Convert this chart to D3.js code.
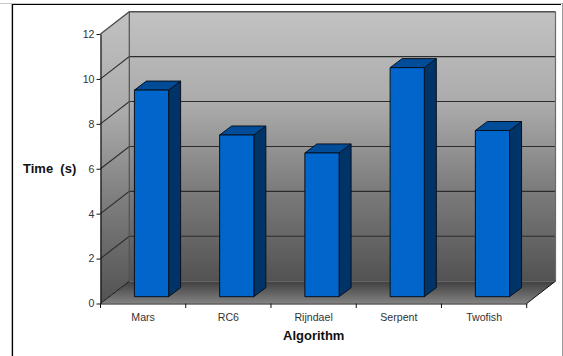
<!DOCTYPE html>
<html>
<head>
<meta charset="utf-8">
<script src="https://cdn.jsdelivr.net/npm/d3@7/dist/d3.min.js"></script>
<style>
html, body { margin: 0; padding: 0; background: #fff; }
svg { display: block; }
text { font-family: "Liberation Sans", Arial, sans-serif; }
</style>
</head>
<body>
<svg id="chart" width="563" height="356"></svg>
<script>
// Encryption time per algorithm
const categories = ["Mars", "RC6", "Rijndael", "Serpent", "Twofish"];
const times = [9.2, 7.2, 6.4, 10.2, 7.4];
const yTicks = [0, 2, 4, 6, 8, 10, 12];

const W = 563, H = 356;
const plotL = 100.5, plotR = 526.7, plotB = 303.5, plotT = 34;
const depthX = 28.8, depthY = 22.3;   // offset of the back wall
const barDX = 12, barDY = 9;          // depth of each bar
const barInsetX = 33.9, barInsetY = 6.8, barWidth = 34.2;

const svg = d3.select("#chart");
const x = d3.scaleBand().domain(categories).range([plotL, plotR]);
const y = d3.scaleLinear().domain([0, 12]).range([plotB, plotT]);
const poly = pts => pts.map(p => p.join(",")).join(" ");

const defs = svg.append("defs");
function vGrad(id, stops) {
  const g = defs.append("linearGradient").attr("id", id)
    .attr("x1", 0).attr("y1", 0).attr("x2", 0).attr("y2", 1);
  stops.forEach(s => g.append("stop").attr("offset", s[0]).attr("stop-color", s[1]));
}
vGrad("wall", [[0, "#c2c2c2"], [0.35, "#aaaaaa"], [0.65, "#7d7d7d"], [1, "#525252"]]);
vGrad("floor", [[0, "#3f3f3f"], [1, "#828282"]]);

// Outer frame
svg.append("rect").attr("x", 0).attr("y", 3).attr("width", W).attr("height", 1).attr("fill", "#c8c8c8");
svg.append("rect").attr("x", 11).attr("y", 3).attr("width", 1).attr("height", H).attr("fill", "#c8c8c8");
svg.append("path").attr("d", `M12.5,${H}V4.5H561`).attr("fill", "none").attr("stroke", "#000").attr("stroke-width", 1.2);
svg.append("rect").attr("x", 562).attr("y", 3).attr("width", 1).attr("height", H).attr("fill", "#9a9a9a");

// Walls and floor
const wallStroke = "#505050";
svg.append("polygon")
  .attr("points", poly([[plotL + depthX, y(12) - depthY], [plotR + depthX, y(12) - depthY],
    [plotR + depthX, y(0) - depthY], [plotL + depthX, y(0) - depthY]]))
  .attr("fill", "url(#wall)");
svg.append("polygon")
  .attr("points", poly([[plotL, y(12)], [plotL + depthX, y(12) - depthY],
    [plotL + depthX, y(0) - depthY], [plotL, y(0)]]))
  .attr("fill", "url(#wall)");
svg.append("polygon")
  .attr("points", poly([[plotL, y(0)], [plotL + depthX, y(0) - depthY],
    [plotR + depthX, y(0) - depthY], [plotR, y(0)]]))
  .attr("fill", "url(#floor)");

// Gridlines across the left and back walls
svg.append("g").selectAll("path").data(yTicks.filter(d => d > 0)).join("path")
  .attr("d", d => `M${plotL},${y(d)}L${plotL + depthX},${y(d) - depthY}H${plotR + depthX}`)
  .attr("fill", "none")
  .attr("stroke", d => d === 12 ? wallStroke : "#2c2c2c")
  .attr("stroke-width", d => d === 12 ? 1.4 : 1.1);

// Wall edges
svg.append("path")
  .attr("d", `M${plotL + depthX},${y(12) - depthY}V${y(0) - depthY}`)
  .attr("stroke", wallStroke).attr("stroke-width", 1.2).attr("fill", "none");
svg.append("path")
  .attr("d", `M${plotR + depthX},${y(12) - depthY}V${y(0) - depthY}`)
  .attr("stroke", "#6a6a6a").attr("stroke-width", 1.2).attr("fill", "none");
svg.append("path")
  .attr("d", `M${plotL},${y(0)}L${plotL + depthX},${y(0) - depthY}`)
  .attr("stroke", "#1a1a1a").attr("stroke-width", 1).attr("fill", "none");
svg.append("path")
  .attr("d", `M${plotR},${y(0)}L${plotR + depthX},${y(0) - depthY}`)
  .attr("stroke", "#111").attr("stroke-width", 1).attr("fill", "none");

// Extruded bars
const bars = svg.append("g").selectAll("g").data(categories).join("g")
  .attr("stroke", "#08121f").attr("stroke-width", 1).attr("stroke-linejoin", "round");
const bx = c => x(c) + barInsetX;
const barTop = i => y(times[i]) - barInsetY;
const barBase = y(0) - barInsetY;
bars.append("polygon")
  .attr("points", (c, i) => poly([[bx(c) + barWidth, barTop(i)], [bx(c) + barWidth + barDX, barTop(i) - barDY],
    [bx(c) + barWidth + barDX, barBase - barDY], [bx(c) + barWidth, barBase]]))
  .attr("fill", "#003366");
bars.append("polygon")
  .attr("points", (c, i) => poly([[bx(c), barTop(i)], [bx(c) + barDX, barTop(i) - barDY],
    [bx(c) + barWidth + barDX, barTop(i) - barDY], [bx(c) + barWidth, barTop(i)]]))
  .attr("fill", "#004c99");
bars.append("rect")
  .attr("x", c => bx(c)).attr("y", (c, i) => barTop(i))
  .attr("width", barWidth).attr("height", (c, i) => barBase - barTop(i))
  .attr("fill", "#0066cc");

// Axes
const yAxis = svg.append("g").attr("transform", `translate(${plotL},0)`)
  .call(d3.axisLeft(y).tickValues(yTicks).tickSize(4).tickPadding(2).tickSizeOuter(0));
const xAxis = svg.append("g").attr("transform", `translate(0,${plotB})`)
  .call(d3.axisBottom(x).tickSize(0).tickPadding(10));
svg.append("g").selectAll("line").data(d3.range(categories.length + 1)).join("line")
  .attr("x1", i => plotL + i * x.step()).attr("x2", i => plotL + i * x.step())
  .attr("y1", plotB).attr("y2", plotB + 4.5).attr("stroke", "#111");
[yAxis, xAxis].forEach(a => {
  a.selectAll(".domain").attr("stroke", "#111").attr("stroke-width", 1.2);
  a.selectAll(".tick line").attr("stroke", "#111");
  a.selectAll("text").attr("font-family", "Liberation Sans").attr("font-size", 10.6).attr("fill", "#333");
});

// Axis titles
svg.append("text").attr("x", 23).attr("y", 173)
  .attr("font-size", 13).attr("font-weight", "bold").attr("fill", "#111")
  .style("white-space", "pre").text("Time  (s)");
svg.append("text").attr("x", 283).attr("y", 340)
  .attr("font-size", 13).attr("font-weight", "bold").attr("fill", "#111").text("Algorithm");
</script>
</body>
</html>
